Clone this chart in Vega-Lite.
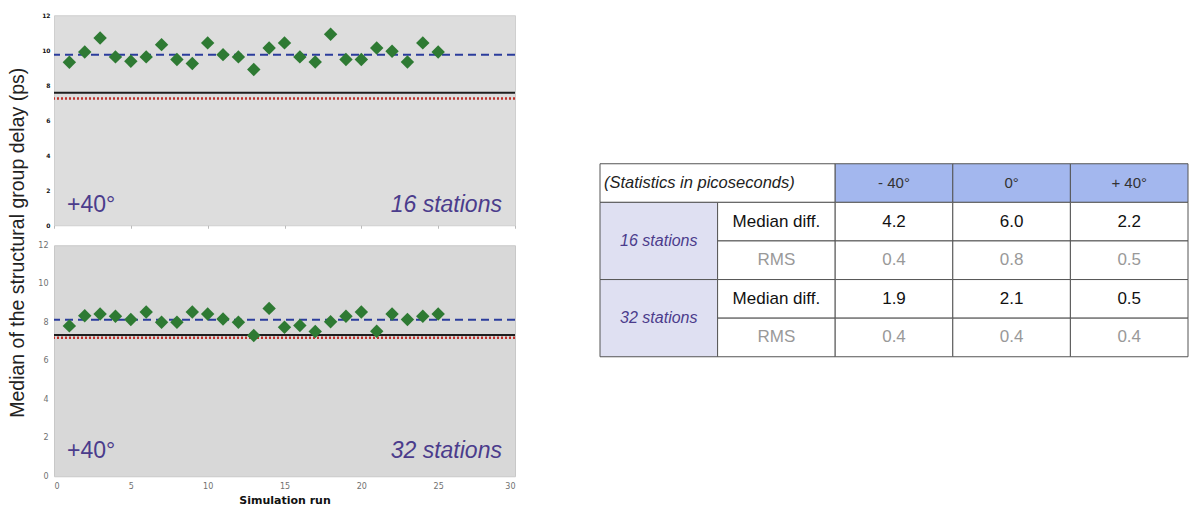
{
  "$schema": "https://vega.github.io/schema/vega-lite/v6.json",
  "padding": {"left": 6, "top": 11, "right": 0, "bottom": 0},
  "background": "white",
  "config": {
    "font": "Liberation Sans",
    "view": {"stroke": null},
    "axis": {"grid": false, "domain": false}
  },
  "datasets": {
    "p16": [
      {"run": 1, "delay": 9.31}, {"run": 2, "delay": 9.9}, {"run": 3, "delay": 10.7}, {"run": 4, "delay": 9.62},
      {"run": 5, "delay": 9.37}, {"run": 6, "delay": 9.62}, {"run": 7, "delay": 10.32}, {"run": 8, "delay": 9.47},
      {"run": 9, "delay": 9.24}, {"run": 10, "delay": 10.42}, {"run": 11, "delay": 9.75}, {"run": 12, "delay": 9.62},
      {"run": 13, "delay": 8.9}, {"run": 14, "delay": 10.13}, {"run": 15, "delay": 10.42}, {"run": 16, "delay": 9.62},
      {"run": 17, "delay": 9.33}, {"run": 18, "delay": 10.91}, {"run": 19, "delay": 9.47}, {"run": 20, "delay": 9.47},
      {"run": 21, "delay": 10.13}, {"run": 22, "delay": 9.94}, {"run": 23, "delay": 9.33}, {"run": 24, "delay": 10.42},
      {"run": 25, "delay": 9.9}
    ],
    "p32": [
      {"run": 1, "delay": 7.81}, {"run": 2, "delay": 8.34}, {"run": 3, "delay": 8.43}, {"run": 4, "delay": 8.31},
      {"run": 5, "delay": 8.14}, {"run": 6, "delay": 8.53}, {"run": 7, "delay": 8.0}, {"run": 8, "delay": 8.0},
      {"run": 9, "delay": 8.53}, {"run": 10, "delay": 8.43}, {"run": 11, "delay": 8.17}, {"run": 12, "delay": 8.0},
      {"run": 13, "delay": 7.31}, {"run": 14, "delay": 8.72}, {"run": 15, "delay": 7.74}, {"run": 16, "delay": 7.83},
      {"run": 17, "delay": 7.52}, {"run": 18, "delay": 8.03}, {"run": 19, "delay": 8.31}, {"run": 20, "delay": 8.53},
      {"run": 21, "delay": 7.53}, {"run": 22, "delay": 8.43}, {"run": 23, "delay": 8.14}, {"run": 24, "delay": 8.31},
      {"run": 25, "delay": 8.43}
    ],
    "l16": [
      {"kind": "mean", "value": 9.75},
      {"kind": "reference", "value": 7.57},
      {"kind": "model", "value": 7.24}
    ],
    "l32": [
      {"kind": "mean", "value": 8.13},
      {"kind": "reference", "value": 7.34},
      {"kind": "model", "value": 7.2}
    ],
    "a16": [{"angle": "+40°", "stations": "16 stations"}],
    "a32": [{"angle": "+40°", "stations": "32 stations"}],
    "table": [
      {"x0": 0, "x1": 2, "y0": 0, "y1": 1, "cx": 0, "cy": 0.5, "role": "title", "label": "(Statistics in picoseconds)"},
      {"x0": 2, "x1": 3, "y0": 0, "y1": 1, "cx": 2.5, "cy": 0.5, "role": "angle", "label": "- 40°"},
      {"x0": 3, "x1": 4, "y0": 0, "y1": 1, "cx": 3.5, "cy": 0.5, "role": "angle", "label": "0°"},
      {"x0": 4, "x1": 5, "y0": 0, "y1": 1, "cx": 4.5, "cy": 0.5, "role": "angle", "label": "+ 40°"},
      {"x0": 0, "x1": 1, "y0": 1, "y1": 3, "cx": 0.5, "cy": 2, "role": "group", "label": "16 stations"},
      {"x0": 0, "x1": 1, "y0": 3, "y1": 5, "cx": 0.5, "cy": 4, "role": "group", "label": "32 stations"},
      {"x0": 1, "x1": 2, "y0": 1, "y1": 2, "cx": 1.5, "cy": 1.5, "role": "median_label", "label": "Median diff."},
      {"x0": 1, "x1": 2, "y0": 2, "y1": 3, "cx": 1.5, "cy": 2.5, "role": "rms_label", "label": "RMS"},
      {"x0": 1, "x1": 2, "y0": 3, "y1": 4, "cx": 1.5, "cy": 3.5, "role": "median_label", "label": "Median diff."},
      {"x0": 1, "x1": 2, "y0": 4, "y1": 5, "cx": 1.5, "cy": 4.5, "role": "rms_label", "label": "RMS"},
      {"x0": 2, "x1": 3, "y0": 1, "y1": 2, "cx": 2.5, "cy": 1.5, "role": "median", "label": "4.2"},
      {"x0": 3, "x1": 4, "y0": 1, "y1": 2, "cx": 3.5, "cy": 1.5, "role": "median", "label": "6.0"},
      {"x0": 4, "x1": 5, "y0": 1, "y1": 2, "cx": 4.5, "cy": 1.5, "role": "median", "label": "2.2"},
      {"x0": 2, "x1": 3, "y0": 2, "y1": 3, "cx": 2.5, "cy": 2.5, "role": "rms", "label": "0.4"},
      {"x0": 3, "x1": 4, "y0": 2, "y1": 3, "cx": 3.5, "cy": 2.5, "role": "rms", "label": "0.8"},
      {"x0": 4, "x1": 5, "y0": 2, "y1": 3, "cx": 4.5, "cy": 2.5, "role": "rms", "label": "0.5"},
      {"x0": 2, "x1": 3, "y0": 3, "y1": 4, "cx": 2.5, "cy": 3.5, "role": "median", "label": "1.9"},
      {"x0": 3, "x1": 4, "y0": 3, "y1": 4, "cx": 3.5, "cy": 3.5, "role": "median", "label": "2.1"},
      {"x0": 4, "x1": 5, "y0": 3, "y1": 4, "cx": 4.5, "cy": 3.5, "role": "median", "label": "0.5"},
      {"x0": 2, "x1": 3, "y0": 4, "y1": 5, "cx": 2.5, "cy": 4.5, "role": "rms", "label": "0.4"},
      {"x0": 3, "x1": 4, "y0": 4, "y1": 5, "cx": 3.5, "cy": 4.5, "role": "rms", "label": "0.4"},
      {"x0": 4, "x1": 5, "y0": 4, "y1": 5, "cx": 4.5, "cy": 4.5, "role": "rms", "label": "0.4"}
    ]
  },
  "hconcat": [
    {
      "vconcat": [
        {
          "width": 461,
          "height": 210,
          "view": {"fill": "#dddddd", "stroke": "#cfcfcf"},
          "encoding": {
            "y": {"type": "quantitative", "scale": {"domain": [0, 12], "nice": false},
              "axis": {"values": [0, 2, 4, 6, 8, 10, 12], "labelOverlap": false, "ticks": false, "labelFont": "DejaVu Sans", "labelFontSize": 6, "labelFontWeight": "bold", "labelColor": "#111111", "labelPadding": 4,
                "title": "Median of the structural group delay (ps)", "titleFont": "Liberation Sans", "titleFontSize": 19.5, "titleFontWeight": "normal", "titleColor": "#222222", "titleX": -27, "titleY": 227}}
          },
          "layer": [
            {
              "data": {"name": "l16"},
              "transform": [{"filter": "datum.kind === 'reference'"}],
              "mark": {"type": "rule", "color": "#1e1e1e", "strokeWidth": 2},
              "encoding": {"y": {"field": "value"}}
            },
            {
              "data": {"name": "l16"},
              "transform": [{"filter": "datum.kind === 'model'"}],
              "mark": {"type": "rule", "color": "#c0302a", "strokeWidth": 2.5, "strokeDash": [2, 2]},
              "encoding": {"y": {"field": "value"}}
            },
            {
              "data": {"name": "l16"},
              "transform": [{"filter": "datum.kind === 'mean'"}],
              "mark": {"type": "rule", "color": "#2b3c9c", "strokeWidth": 2, "strokeDash": [8, 5]},
              "encoding": {"y": {"field": "value"}}
            },
            {
              "data": {"name": "p16"},
              "mark": {"type": "point", "shape": "diamond", "filled": true, "color": "#2e7a33", "size": 180, "opacity": 1},
              "encoding": {
                "x": {"field": "run", "type": "quantitative", "scale": {"domain": [0, 30], "nice": false},
                  "axis": {"values": [0, 5, 10, 15, 20, 25, 30], "labels": false, "ticks": true, "tickSize": 3, "tickColor": "#bbbbbb", "title": null}},
                "y": {"field": "delay"}
              }
            },
            {
              "data": {"name": "a16"},
              "mark": {"type": "text", "align": "left", "baseline": "middle", "fontSize": 23, "color": "#4b3c8c"},
              "encoding": {"x": {"datum": 0.85, "type": "quantitative"}, "y": {"datum": 1.14}, "text": {"field": "angle"}}
            },
            {
              "data": {"name": "a16"},
              "mark": {"type": "text", "align": "right", "baseline": "middle", "fontSize": 23, "fontStyle": "italic", "color": "#4b3c8c"},
              "encoding": {"x": {"datum": 29.15, "type": "quantitative"}, "y": {"datum": 1.14}, "text": {"field": "stations"}}
            }
          ]
        },
        {
          "width": 461,
          "height": 231,
          "view": {"fill": "#d8d8d8", "stroke": "#c8c8c8"},
          "encoding": {
            "y": {"type": "quantitative", "scale": {"domain": [0, 12], "nice": false},
              "axis": {"values": [0, 2, 4, 6, 8, 10, 12], "labelOverlap": false, "ticks": false, "labelFont": "DejaVu Sans", "labelFontSize": 8, "labelColor": "#707070", "labelPadding": 6, "title": null}}
          },
          "layer": [
            {
              "data": {"name": "l32"},
              "transform": [{"filter": "datum.kind === 'reference'"}],
              "mark": {"type": "rule", "color": "#1e1e1e", "strokeWidth": 2},
              "encoding": {"y": {"field": "value"}}
            },
            {
              "data": {"name": "l32"},
              "transform": [{"filter": "datum.kind === 'model'"}],
              "mark": {"type": "rule", "color": "#c0302a", "strokeWidth": 2.5, "strokeDash": [2, 2]},
              "encoding": {"y": {"field": "value"}}
            },
            {
              "data": {"name": "l32"},
              "transform": [{"filter": "datum.kind === 'mean'"}],
              "mark": {"type": "rule", "color": "#2b3c9c", "strokeWidth": 2, "strokeDash": [8, 5]},
              "encoding": {"y": {"field": "value"}}
            },
            {
              "data": {"name": "p32"},
              "mark": {"type": "point", "shape": "diamond", "filled": true, "color": "#2e7a33", "size": 180, "opacity": 1},
              "encoding": {
                "x": {"field": "run", "type": "quantitative", "scale": {"domain": [0, 30], "nice": false},
                  "axis": {"values": [0, 5, 10, 15, 20, 25, 30], "labelOverlap": false, "ticks": false, "labelFont": "DejaVu Sans", "labelFontSize": 8, "labelColor": "#707070", "labelPadding": 6,
                    "title": "Simulation run", "titleFont": "DejaVu Sans", "titleFontSize": 11, "titleFontWeight": "bold", "titleColor": "#111111", "titlePadding": 4}},
                "y": {"field": "delay"}
              }
            },
            {
              "data": {"name": "a32"},
              "mark": {"type": "text", "align": "left", "baseline": "middle", "fontSize": 23, "color": "#4b3c8c"},
              "encoding": {"x": {"datum": 0.85, "type": "quantitative"}, "y": {"datum": 1.3}, "text": {"field": "angle"}}
            },
            {
              "data": {"name": "a32"},
              "mark": {"type": "text", "align": "right", "baseline": "middle", "fontSize": 23, "fontStyle": "italic", "color": "#4b3c8c"},
              "encoding": {"x": {"datum": 29.15, "type": "quantitative"}, "y": {"datum": 1.3}, "text": {"field": "stations"}}
            }
          ]
        }
      ],
      "spacing": 20,
      "bounds": "flush"
    },
    {
      "width": 588,
      "height": 193,
      "data": {"name": "table"},
      "layer": [
        {
          "mark": {"type": "rect", "stroke": "#555555", "strokeWidth": 1},
          "encoding": {
            "x": {"field": "x0", "type": "quantitative", "scale": {"domain": [0, 5], "nice": false}, "axis": null},
            "x2": {"field": "x1"},
            "y": {"field": "y0", "type": "quantitative", "scale": {"domain": [0, 5], "nice": false, "reverse": true}, "axis": null},
            "y2": {"field": "y1"},
            "fill": {"field": "role", "type": "nominal", "legend": null,
              "scale": {"domain": ["title", "angle", "group", "median_label", "rms_label", "median", "rms"],
                "range": ["#ffffff", "#a3b7ee", "#dfe0f2", "#ffffff", "#ffffff", "#ffffff", "#ffffff"]}}
          }
        },
        {
          "transform": [{"filter": "datum.role === 'title'"}],
          "mark": {"type": "text", "align": "left", "baseline": "middle", "fontSize": 16.5, "fontStyle": "italic", "color": "#222222", "dx": 4},
          "encoding": {
            "x": {"field": "x0", "type": "quantitative"},
            "y": {"field": "cy", "type": "quantitative"},
            "text": {"field": "label"}
          }
        },
        {
          "transform": [{"filter": "datum.role === 'group'"}],
          "mark": {"type": "text", "align": "center", "baseline": "middle", "fontSize": 16, "fontStyle": "italic", "color": "#4b3c8c"},
          "encoding": {
            "x": {"field": "cx", "type": "quantitative"},
            "y": {"field": "cy", "type": "quantitative"},
            "text": {"field": "label"}
          }
        },
        {
          "transform": [{"filter": "datum.role === 'angle'"}],
          "mark": {"type": "text", "align": "center", "baseline": "middle", "fontSize": 15, "color": "#333333"},
          "encoding": {
            "x": {"field": "cx", "type": "quantitative"},
            "y": {"field": "cy", "type": "quantitative"},
            "text": {"field": "label"}
          }
        },
        {
          "transform": [{"filter": "datum.role !== 'title' && datum.role !== 'group' && datum.role !== 'angle'"}],
          "mark": {"type": "text", "align": "center", "baseline": "middle", "fontSize": 17},
          "encoding": {
            "x": {"field": "cx", "type": "quantitative"},
            "y": {"field": "cy", "type": "quantitative"},
            "text": {"field": "label"},
            "color": {"field": "role", "type": "nominal", "legend": null,
              "scale": {"domain": ["median_label", "rms_label", "median", "rms"], "range": ["#111111", "#999999", "#111111", "#999999"]}}
          }
        }
      ]
    }
  ],
  "spacing": 82,
  "bounds": "full",
  "center": true
}
